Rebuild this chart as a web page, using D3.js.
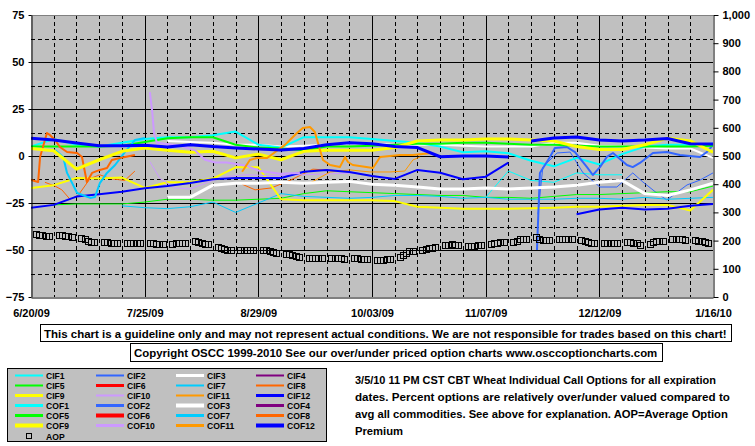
<!DOCTYPE html>
<html><head><meta charset="utf-8">
<script src="https://cdn.jsdelivr.net/npm/d3@7"></script>
<style>
body{margin:0;background:#fff;}
svg{display:block;}
text{font-family:"Liberation Sans",Arial,sans-serif;font-weight:bold;fill:#000;}
</style>
</head><body>
<svg id="c" width="755" height="446"></svg>
<script>
// ---------------- DATA ----------------
const weekDays=[0,7,14,21,28,35,42,49,56,63,70,77,84,91,98,105,112,119,126,133,140,147,154,161,168,175,182,189,196,203,210];
const xTickDays=[0,35,70,105,140,175,210];
const xTickLabels=["6/20/09","7/25/09","8/29/09","10/03/09","11/07/09","12/12/09","1/16/10"];
const leftTicks=[-75,-50,-25,0,25,50,75];
const rightTicks=[0,100,200,300,400,500,600,700,800,900,1000];
const N=null;

// weekly series (left axis, %)
const cof12a=[9.4,8.5,6.9,5.5,5.5,5.7,4.8,6,5,4.3,3.7,3.2,4,6,7,6.5,5,4.5,-0.4,0,0,-0.5,N,N,N,N,N,N,N,N,N];
const cof12b=[N,N,N,N,N,N,N,N,N,N,N,N,N,N,N,N,N,N,N,N,N,N,8,9.6,10.1,8.5,8,8.5,9.3,6.5,6.4];
const cif12a=[-27.5,-26,-21.6,-20.4,-19,-17.2,-16,-14.4,-12.4,-11.7,-11.7,-11.7,-8.4,-7.4,-8.5,-10.6,-12.2,-7.4,-8.9,-12.4,-11,-3.5,N,N,N,N,N,N,N,N,N];
const cif12b=[N,N,N,N,N,N,N,N,N,N,N,N,N,N,N,N,N,N,N,N,N,N,N,N,-31,-28.5,-27.5,-28.5,-28,-26.5,-25.5];
const cof9=[4,2.8,-7,-2,2.5,4.3,3,2,2.5,-1,1,-2,2.5,3,3,3,4.5,8,8.5,8.5,9,9,8.5,8,5,3.5,3.5,6,9.5,8,2];
const cif9=[-17,-15.5,-11.7,-12,-11.5,-17,-14,-14,-12,-6,-6,-23,-23.5,-23.5,-23.5,-23.5,-24,-27,-27.5,-28,-28,-28,-27.8,-27.5,-27,-27,-26.5,-26,-26,-29,-18];
const cof3=[N,N,N,N,N,N,-22,-22,-15.5,-14.5,-14.5,-14,-14.5,-14,-13.5,-15,-15.5,-16.5,-17.5,-17.5,-17,-17.5,-17,-16.5,-15.5,-14,-13,-20,-21,-18,-14.5];
const cif3=[N,N,N,N,N,N,8,7.5,7,6,6,5,5.5,6,6.5,6.5,6,6,6,5.5,5,5,5,7,7,5.5,5,4.5,4,4,-1];
const cof5=[5,5,5,5,5.5,7.5,9.5,10,10,6,4.5,4,3,5,5,5.5,6,6.5,6.5,7,7,6.5,6,6,5.5,5,5,5,5,5,5.5];
const cif5=[N,-26,-25.5,-25.5,-25.5,-24.5,-23,-23,-23.5,-23.5,-23,-22.5,-20,-18.5,-19,-19.5,-20,-20.5,-21,-21,-22,-22,-22.5,-21.5,-20.5,-20.5,-20,-19.5,-19,-19,-16];
const cof1=[5,9,6,5,7,9,10,10,11,13,6,4.5,10,10,10,9,8,7,5,2,2.5,1.5,-2.5,-5.5,-1,-4.5,1,5,6,6,6.5];
const cif7=[N,N,N,N,-26.5,-27.5,-28,-27,-24.5,-30,-25,-20,-21.5,-22,-22.5,-22,-21,-21,-21.5,-22.5,-22,-23,-23,-23,-22.5,-22.5,-23,-22,-23,-22.5,-22];
const cif1=[N,N,N,N,N,N,N,N,N,N,N,N,N,N,N,N,N,N,N,N,-22,-8,-13,-14,-9,-10,-10,N,N,N,N];

// irregular series: [day since 6/20/09, value]
const cof7=[[7.4,3.2],[9.9,-0.5],[11.1,-9],[14.2,-19.7],[18.2,-22.3],[19.7,-21.8],[21.2,-14.4],[23.4,-9],[25.9,-4.8],[28.9,2.1],[32,8.5],[35.1,9.6]];
const cof8=[[0,-12.8],[2.2,-13.8],[2.8,-0.5],[4.9,12.2],[5.8,11.2],[7.4,8.5],[8.9,4.8],[11.1,2.1],[14.2,1.6],[15.7,-0.5],[16.6,-8.5],[17.2,-13.8],[18.8,-9],[21.2,-7.4],[23.4,-6.4],[24.9,-2.1],[27.4,-1.1],[32,0.5]];
const cif8a=[[4.3,-14],[7.4,-16],[9.5,-18],[12,-23],[14.5,-21],[18.2,-12],[21.2,-10],[24.3,-12],[28.9,-13],[32,-8]];
const cif8b=[[65,-15],[69,-18],[74,-17],[79.7,-13],[86.8,-7],[96,-8],[106.5,-11]];
const cof11=[[65,-8.4],[67.4,-2.1],[69.6,-1.1],[72.7,-1.1],[78.2,5.9],[81.9,12.2],[83.7,14.9],[85.9,15.4],[87.4,12.8],[89,3.2],[89.9,-2.1],[92.1,-4.8],[95.1,-5.9],[96.7,-0.5],[97.6,-3.2],[99.1,-4.8],[105.3,-6.4],[107.5,-0.5],[113.6,0.5],[117.6,0.5],[123.5,1.6]];
const cif11=[[85.9,-14.4],[92.1,-8.5],[98.2,-7.4],[104.4,-8.5],[110.5,-8.5],[115.1,-8],[117.6,-2.1],[119.8,-0.5]];
const cof10=[[36.6,34],[37.3,24],[37.9,12],[38.8,7],[41.3,6.5],[45.9,5.5],[50.5,3],[53.6,-2],[56.7,-3.5],[60.3,-3.5],[65.9,-5],[70.5,-8],[76.7,-9.5],[82.8,-9]];
const cif10=[[36.6,-3],[39.7,-12],[44.3,-17],[49,-17.5],[56,-13],[59.7,-11],[65.9,-10],[75.1,-10.5],[82.8,-10],[92.1,-9.5],[99.8,-9]];
const cof2=[[155.8,-50],[156.7,-9],[159.8,-0.5],[161.3,4.3],[165,4.8],[167.5,2.1],[171.2,-5.9],[173,-10.1],[175.2,-5.9],[177.3,-0.5],[179.2,1.6],[183.5,-4.8],[185.3,-5.9],[187.5,-3.7],[191.5,1.6],[195.8,2.1],[199.8,0.5],[206,-0.5],[208.1,2.1],[210,5.9]];
const cif2=[[156.1,-31],[157.6,-5.9],[162,1.6],[166,2.1],[170,-9],[175.2,-16.5],[180.4,-16.5],[185.3,-9],[188.4,-13.8],[192.7,-19.7],[195.8,-23.4],[202,-15.4],[206,-12.8],[210,-9]];

// AOP (right axis), 5 trading days per week
const aopWeeks=[
[224,221,219,218,218],[220,219,218,216,212],[210,206,200,196,195],[195,194,192,191,190],
[192,193,192,191,191],[192,190,189,187,187],[189,190,192,193,193],[197,194,191,189,187],
[178,175,171,168,167],[168,167,166,165,165],[168,166,163,160,157],[154,151,148,145,142],
[140,138,137,137,138],[138,140,140,138,136],[137,137,136,136,133],[130,130,131,133,136],
[143,150,156,164,164],[168,170,172,175,176],[184,186,187,186,185],[180,180,181,183,184],
[188,191,193,194,194],[194,200,204,206,207],[212,207,203,203,203],[205,205,205,205,205],
[202,199,195,192,190],[193,193,193,193,193],[194,194,192,190,186],[188,194,198,199,200],
[204,206,206,204,202],[202,200,197,194,190]];

const legendNames=["CIF1","CIF2","CIF3","CIF4","CIF5","CIF6","CIF7","CIF8","CIF9","CIF10","CIF11","CIF12",
"COF1","COF2","COF3","COF4","COF5","COF6","COF7","COF8","COF9","COF10","COF11","COF12"];

const textLine1="This chart is a guideline only and may not represent actual conditions. We are not responsible for trades based on this chart!";
const textLine2="Copyright OSCC 1999-2010 See our over/under priced option charts www.osccoptioncharts.com";
const noteLines=["3/5/10 11 PM CST CBT Wheat Individual Call Options for all expiration",
"dates. Percent options are relatively over/under valued compared to",
"avg all commodities. See above for explanation. AOP=Average Option",
"Premium"];

// ---------------- STYLES ----------------
const monthColor={1:"#00ffff",2:"#3366ff",3:"#ffffff",4:"#800080",5:"#00ff00",6:"#ff0000",7:"#00ccff",8:"#ff6600",9:"#ffff00",10:"#cc99ff",11:"#ff9900",12:"#0000ff"};
function styleOf(name){
  const m=+name.replace(/\D/g,"");
  const heavy=[3,6,9,12].includes(m);
  const base=heavy?2:1;
  return {color:monthColor[m],w:name.startsWith("COF")?base+1:base};
}
// shrink font so the natural text width equals the target width
function fitText(sel,size,target){
  sel.attr("font-size",size);
  const w=sel.node().getComputedTextLength();
  if(w>0) sel.attr("font-size",(size*target/w).toFixed(2));
  return sel;
}

// ---------------- DRAW ----------------
const svg=d3.select("#c");
const L=31,R=713,T=15,B=297;
const x=d3.scaleLinear().domain([0,210]).range([L,R]);
const yL=d3.scaleLinear().domain([-75,75]).range([B,T]);
const yR=d3.scaleLinear().domain([0,1000]).range([B,T]);

svg.append("rect").attr("x",L).attr("y",T).attr("width",R-L).attr("height",B-T).attr("fill","#c0c0c0");

// grid
const g=svg.append("g");
for(let v=-62.5;v<75;v+=12.5){
  const major=Math.abs(v%25)<1e-9;
  g.append("line").attr("x1",L).attr("x2",R).attr("y1",Math.round(yL(v))+0.5).attr("y2",Math.round(yL(v))+0.5)
   .attr("stroke","#000").attr("stroke-width",1).attr("stroke-dasharray",major?null:"4,3");
}
for(let d=7;d<210;d+=7){
  const major=d%35===0;
  g.append("line").attr("y1",T).attr("y2",B).attr("x1",Math.round(x(d))+0.5).attr("x2",Math.round(x(d))+0.5)
   .attr("stroke","#000").attr("stroke-width",1).attr("stroke-dasharray",major?null:"4,3");
}
svg.append("line").attr("x1",L).attr("x2",R).attr("y1",T+0.5).attr("y2",T+0.5).attr("stroke","#808080");

// series
svg.append("clipPath").attr("id","pc").append("rect").attr("x",L).attr("y",T).attr("width",R-L).attr("height",B-T);
const zipW=a=>a.map((v,i)=>[weekDays[i],v]);
const series=[
 ["CIF1",zipW(cif1)],["CIF2",cif2],["CIF3",zipW(cif3)],["CIF5",zipW(cif5)],["CIF7",zipW(cif7)],
 ["CIF8",cif8a],["CIF8",cif8b],["CIF9",zipW(cif9)],["CIF10",cif10],["CIF11",cif11],
 ["CIF12",zipW(cif12a)],["CIF12",zipW(cif12b)],
 ["COF1",zipW(cof1)],["COF2",cof2],["COF3",zipW(cof3)],["COF5",zipW(cof5)],["COF7",cof7],
 ["COF8",cof8],["COF9",zipW(cof9)],["COF10",cof10],["COF11",cof11],
 ["COF12",zipW(cof12a)],["COF12",zipW(cof12b)]
];
const line=d3.line().defined(d=>d[1]!=null).x(d=>x(d[0])).y(d=>yL(d[1]));
const sg=svg.append("g").attr("clip-path","url(#pc)");
series.forEach(([name,pts])=>{
  const s=styleOf(name);
  sg.append("path").attr("d",line(pts)).attr("fill","none").attr("stroke",s.color).attr("stroke-width",s.w).attr("stroke-linejoin","round");
});

// AOP squares
const aopPts=[];
aopWeeks.forEach((wk,w)=>wk.forEach((v,i)=>aopPts.push([w*7+1.5+i,v])));
svg.append("g").selectAll("rect").data(aopPts).join("rect")
  .attr("x",d=>Math.round(x(d[0]))-2.5).attr("y",d=>Math.round(yR(d[1]))-2.5)
  .attr("width",6).attr("height",6).attr("fill","none").attr("stroke","#000").attr("stroke-width",1);

// axes
const axL=svg.append("g").attr("transform",`translate(${L+0.5},0)`)
  .call(d3.axisLeft(yL).tickValues(leftTicks).tickSize(3).tickSizeOuter(0).tickPadding(4).tickFormat(d3.format("d")));
const axR=svg.append("g").attr("transform",`translate(${R+0.5},0)`)
  .call(d3.axisRight(yR).tickValues(rightTicks).tickSize(5).tickSizeOuter(0).tickPadding(4));
const axB=svg.append("g").attr("transform",`translate(0,${B+0.5})`)
  .call(d3.axisBottom(x).tickValues(xTickDays).tickFormat((d,i)=>xTickLabels[i]).tickSize(0).tickSizeOuter(0).tickPadding(12));
[axL,axR,axB].forEach(a=>{
  a.selectAll("path.domain").attr("stroke","#000").attr("stroke-width",1);
  a.selectAll("line").attr("stroke","#000");
  a.selectAll("text").style("font-family",'"Liberation Sans",Arial,sans-serif').style("font-weight","bold").style("font-size","11px").attr("fill","#000");
});

// notice boxes
svg.append("rect").attr("x",40.5).attr("y",324.5).attr("width",691).attr("height",17).attr("fill","#fff").attr("stroke","#000");
fitText(svg.append("text").attr("x",44).attr("y",337.5).text(textLine1),12,683);
svg.append("rect").attr("x",130.5).attr("y",343.5).attr("width",532).attr("height",18).attr("fill","#fff").attr("stroke","#000");
fitText(svg.append("text").attr("x",134).attr("y",357).text(textLine2),12,524);

// legend
svg.append("rect").attr("x",7.5).attr("y",368.5).attr("width",319).attr("height",73).attr("fill","#c0c0c0").attr("stroke","#000");
const colX=[15,96,176,256];
legendNames.forEach((n,i)=>{
  const col=i%4,row=Math.floor(i/4);
  const cy=375.5+row*10, s=styleOf(n);
  svg.append("line").attr("x1",colX[col]).attr("x2",colX[col]+28).attr("y1",cy).attr("y2",cy).attr("stroke",s.color).attr("stroke-width",s.w+1);
  svg.append("text").attr("x",colX[col]+31).attr("y",cy+3.5).attr("font-size",8.6).text(n);
});
svg.append("rect").attr("x",26.5).attr("y",433.5).attr("width",5).attr("height",5).attr("fill","none").attr("stroke","#000");
svg.append("text").attr("x",46).attr("y",439.5).attr("font-size",8.6).text("AOP");

// note text
const noteLen=[361,375,373,48];
noteLines.forEach((t,i)=>{
  fitText(svg.append("text").attr("x",355).attr("y",384+i*17).text(t),11,noteLen[i]);
});
</script>
</body></html>
